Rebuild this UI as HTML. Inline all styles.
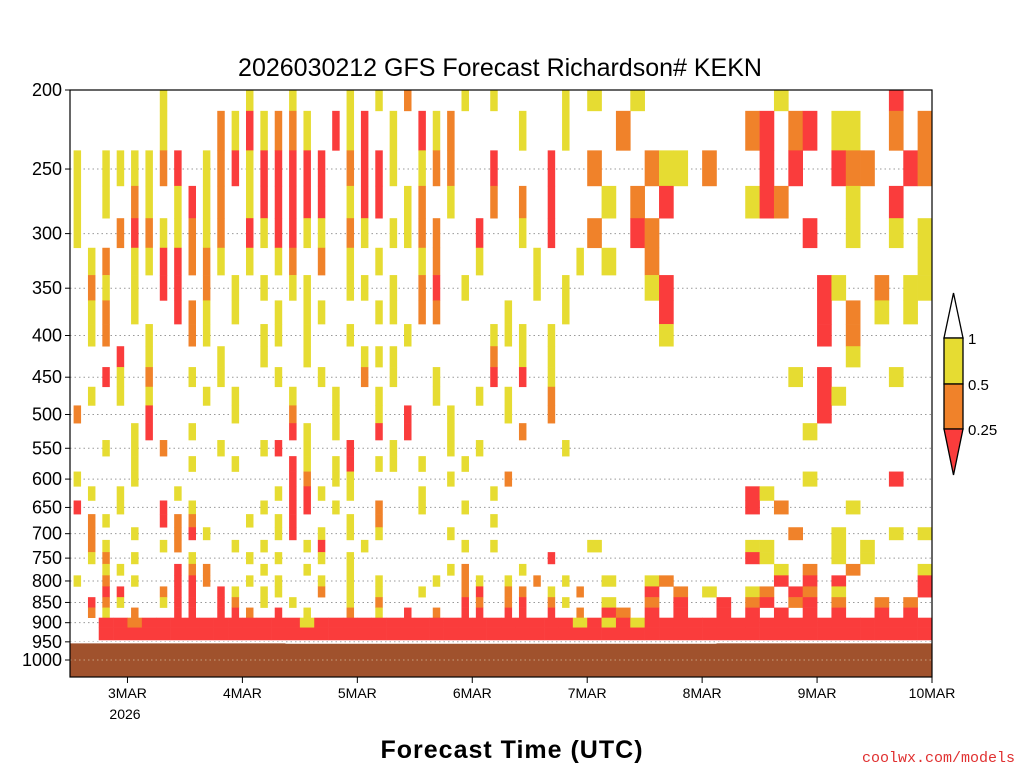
<!DOCTYPE html>
<html><head><meta charset="utf-8"><style>
html,body{margin:0;padding:0;background:#fff;}
svg{display:block;font-family:"Liberation Sans",sans-serif;}
</style></head><body>
<svg id="chart" width="1024" height="768" viewBox="0 0 1024 768">
<text x="500" y="76" text-anchor="middle" font-size="25">2026030212 GFS Forecast Richardson# KEKN</text>
<g id="grid"></g><g id="cells"></g><g id="ground"></g>
<rect x="70" y="90" width="862" height="587" fill="none" stroke="#000" stroke-width="1.2"/>
<g id="yaxis" font-size="18" text-anchor="end"></g>
<g id="xaxis" font-size="14" text-anchor="middle"></g>
<text x="125" y="719" font-size="14" text-anchor="middle">2026</text>
<text x="512" y="758" font-size="25" text-anchor="middle" font-weight="bold" letter-spacing="1">Forecast Time (UTC)</text>
<text x="1015" y="762" font-size="15" text-anchor="end" fill="#e03030" font-family="Liberation Mono,monospace">coolwx.com/models</text>
<g id="legend">
<polygon points="944,338 963,338 953.5,293" fill="#fff" stroke="#000" stroke-width="1.3"/>
<rect x="944" y="338" width="19" height="46" fill="#e6dc32" stroke="#000" stroke-width="1.3"/>
<rect x="944" y="384" width="19" height="45" fill="#f0822a" stroke="#000" stroke-width="1.3"/>
<polygon points="944,429 963,429 953.5,475" fill="#fa3c3c" stroke="#000" stroke-width="1.3"/>
<text x="968" y="344" font-size="15">1</text>
<text x="968" y="390" font-size="15">0.5</text>
<text x="968" y="435" font-size="15">0.25</text>
</g>
</svg>
<script>
const yTicks=[200,250,300,350,400,450,500,550,600,650,700,750,800,850,900,950,1000];
const xTickLabels=["3MAR","4MAR","5MAR","6MAR","7MAR","8MAR","9MAR","10MAR"];
const xTickHours=[12,36,60,84,108,132,156,180];
const levels=[200,225,250,275,300,325,350,375,400,425,450,475,500,525,550,575,600,625,650,675,700,725,750,775,800,825,850,875,900,925];
const rowCells=[
"6y 12y 15y 19y 21y 23o 27y 29y 34y 36y 39y 49y 57r",
"6y 10o 11y 12r 13y 14o 15o 16y 18r 19y 20r 22y 24r 25y 26o 31y 34y 38o 47o 48r 50o 51r 53y 54y 57o 59o",
"0y 2y 3y 4y 5y 6o 7r 9y 10o 11r 12y 13r 14r 15r 16r 17r 19o 20r 21r 22y 24y 25o 26o 29r 33r 36o 40o 41y 42y 44o 48r 50r 53r 54o 55o 58r 59o",
"0y 2y 4o 5y 7y 8r 9y 10o 12y 13r 14r 15r 16r 17r 19y 20r 21r 23y 24o 26y 29o 31o 33r 37y 39o 41r 47y 48r 49o 54y 57r",
"0y 3o 4r 5o 6y 7y 8o 9y 10o 12r 13y 14r 15r 16y 17y 19o 20y 22y 23y 24o 25o 28r 31y 33r 36o 39r 40o 51r 54y 57y 59y",
"1y 2o 4y 5y 6r 7r 8o 9o 10y 12y 14y 15o 17o 19y 21y 24y 25o 28y 32y 35y 37y 40o 59y",
"1o 2y 4y 6r 7r 9o 11y 13y 15y 16y 19y 20y 22y 24o 25r 27y 32y 34y 40y 41r 52r 53y 56o 58y 59y",
"1y 2o 4y 7r 8o 9y 11y 14y 16y 17y 21y 22y 24o 25o 30y 34y 41r 52r 54o 56y 58y",
"1y 2o 5y 8o 9y 13y 14y 16y 19y 23y 29y 30y 31y 33y 41y 52r 54o",
"3r 5y 10y 13y 16y 20y 21y 22y 29o 31y 33y 54y",
"2r 3y 5o 8y 10y 14y 17y 20o 22y 25y 29r 31r 33y 50y 52r 57y",
"1y 3y 5y 9y 11y 15y 18y 21y 25y 28y 30y 33o 52r 53y",
"0o 5r 11y 15o 18y 21y 23r 26y 30y 33o 52r",
"4y 5r 8y 15r 16y 18y 21r 23r 26y 31o 51y",
"2y 4y 6o 10y 13y 14r 16y 19r 22y 26y 28y 34y",
"4y 8y 11y 15r 16y 18y 19r 21y 22y 24y 27y",
"0y 4y 15r 16o 18y 19y 26y 30o 51y 57r",
"1y 3y 7y 14y 15r 16r 17y 19y 24y 29y 47r 48y",
"0r 3y 6r 8y 13y 15r 16r 18y 21o 24y 27y 47r 49o 54y",
"1o 2y 6r 7o 8o 12y 14y 15r 19y 21o 29y",
"1o 4y 7o 8r 9y 14y 15r 17y 19y 21y 26y 50o 53y 57y 59y",
"1o 2y 6y 7o 11y 13y 16y 17r 20y 27y 29y 36y 47y 48y 53y 55y",
"1y 2o 4y 8y 12y 14y 17y 19y 33r 47r 48y 53y 55y",
"2y 3y 7r 8o 9o 13y 16y 19y 26y 27o 31y 49y 51o 54o 59y",
"0y 2o 4y 7r 8r 9o 12y 14y 17y 19y 21y 25y 27o 28y 30y 32o 34y 37y 40y 41o 49r 51r 53r 59r",
"2r 3r 6o 7r 8r 10r 11y 13y 14y 17o 19y 21y 24y 27o 28r 30o 31o 33y 35o 40r 42o 44y 47y 48o 50r 51o 53y 59r",
"1r 2o 3y 6y 7r 8r 10r 11o 13y 15y 19y 21o 27r 28o 30o 31r 33o 34y 37y 40o 42r 45r 47o 48r 50o 51r 53o 56o 58o",
"1o 2y 4o 7r 8r 10r 11r 12o 14r 16y 19o 21y 23r 25o 27r 28r 30r 31r 33r 35o 37r 38o 40r 42r 45r 47r 49r 51r 53r 56r 58r",
"2r 3r 4o 5r 6r 7r 8r 9r 10r 11r 12r 13r 14r 15r 16y 17r 18r 19r 20r 21r 22r 23r 24r 25r 26r 27r 28r 29r 30r 31r 32r 33r 34r 35y 36r 37y 38r 39y 40r 41r 42r 43r 44r 45r 46r 47r 48r 49r 50r 51r 52r 53r 54r 55r 56r 57r 58r 59r",
"2r 3r 4r 5r 6r 7r 8r 9r 10r 11r 12r 13r 14r 15r 16r 17r 18r 19r 20r 21r 22r 23r 24r 25r 26r 27r 28r 29r 30r 31r 32r 33r 34r 35r 36r 37r 38r 39r 40r 41r 42r 43r 44r 45r 46r 47r 48r 49r 50r 51r 52r 53r 54r 55r 56r 57r 58r 59r"
];
const surfacePressure=[952,953,953,952];
const colors={y:"#e6dc32",o:"#f0822a",r:"#fa3c3c"};
const NS="http://www.w3.org/2000/svg";
const X0=70,X1=932,Y0=90,HOURS=180,COLW=3,HOURLY_END_COL=36;
const xs=h=>X0+h/HOURS*(X1-X0);
const ys=p=>Y0+(Math.log(p)-Math.log(200))/(Math.log(1000)-Math.log(200))*570;
function mk(tag,attrs,parent){const e=document.createElementNS(NS,tag);for(const k in attrs)e.setAttribute(k,attrs[k]);parent.appendChild(e);return e;}
const grid=document.getElementById('grid'),cells=document.getElementById('cells'),ya=document.getElementById('yaxis'),xa=document.getElementById('xaxis'),gr=document.getElementById('ground');
yTicks.forEach(p=>{
  const y=ys(p);
  if(p>200){const l=mk('line',{x1:X0,x2:X1,y1:y,y2:y,stroke:'#999','stroke-width':1,'stroke-dasharray':'1.5,3'},grid);
  
  }
  const t=mk('text',{x:62,y:y+6},ya);t.textContent=p;
  
  
  const tk=mk('line',{x1:X0-5,x2:X0,y1:y,y2:y,stroke:'#000'},ya);
  
  
});
xTickLabels.forEach((s,i)=>{
  const x=xs(xTickHours[i]);
  const t=mk('text',{x:x,y:698},xa);t.textContent=s;
  
  
  const tk=mk('line',{x1:x,x2:x,y1:677,y2:683,stroke:'#000'},xa);
  
  
});
levels.forEach((p,i)=>{
  const top=i===0?200:Math.sqrt(p*levels[i-1]);
  const bot=i===levels.length-1?p+20:Math.sqrt(p*levels[i+1]);
  const y0=ys(top),y1=ys(bot);
  const thin=i<levels.length-2;
  rowCells[i].split(' ').forEach(tok=>{
    if(!tok)return;
    const c=parseInt(tok),k=tok.slice(-1);
    let x0=xs(c*COLW),x1=xs((c+1)*COLW);
    if(thin&&c<HOURLY_END_COL){const w=(x1-x0)*0.5;x0=x0+(x1-x0-w)/2;x1=x0+w;}
    const r=mk('rect',{x:x0,y:y0,width:x1-x0+0.3,height:y1-y0+0.3,fill:colors[k]},cells);
    
    
  });
});
const segW=HOURS/surfacePressure.length;
surfacePressure.forEach((p,i)=>{
  const x0=xs(i*segW),x1=xs((i+1)*segW),y=ys(p);
  const r=mk('rect',{x:x0,y:y,width:x1-x0+0.5,height:677-y,fill:'#a0522d'},gr);
  
  
  const l=mk('line',{x1:x0,x2:x1,y1:y,y2:y,stroke:'#fff','stroke-width':1.5},gr);
  
  
});
const gl=mk('line',{x1:X0,x2:X1,y1:ys(1000),y2:ys(1000),stroke:'#c8a080','stroke-width':1,'stroke-dasharray':'1.5,3'},gr);


</script>
</body></html>
